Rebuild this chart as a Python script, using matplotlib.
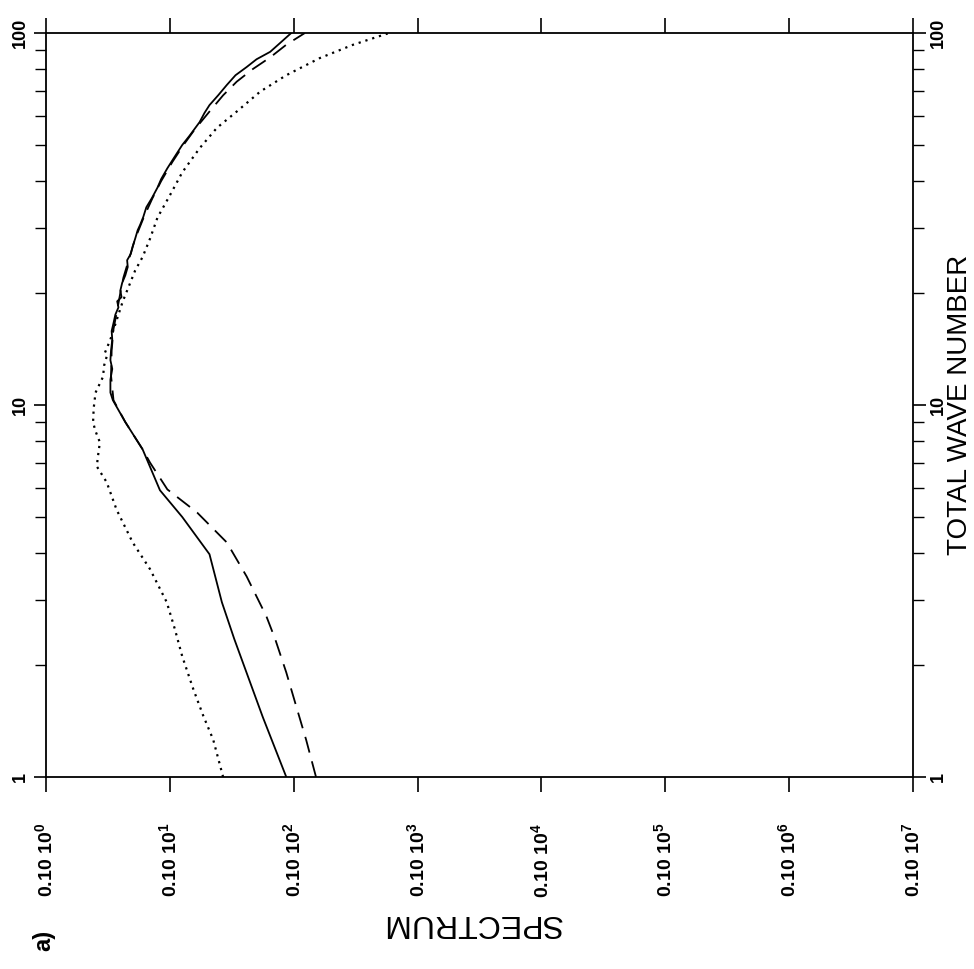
import numpy as np
import matplotlib
matplotlib.use("Agg")
import matplotlib.pyplot as plt
from matplotlib.ticker import FixedLocator, NullFormatter, NullLocator

plt.rcParams['font.family'] = ['Liberation Sans', 'DejaVu Sans']
plt.rcParams['mathtext.fontset'] = 'custom'
plt.rcParams['mathtext.rm'] = 'Liberation Sans:bold'
plt.rcParams['mathtext.bf'] = 'Liberation Sans:bold'

# total wave number vs log10(spectrum)
solid_n = [1, 1.45, 2.35, 2.95, 3.97, 5.0, 5.9, 7.6, 9.0, 10.3, 10.8, 11.7, 12.5,
           13.2, 14.0, 15.0, 15.8, 16.6, 17.5, 18.3, 19.0, 19.5, 20.3, 21.3, 22.3,
           23.5, 24.5, 25.5, 26.7, 28.0, 29.5, 30.5, 32, 34, 36, 38.4, 40.5, 43.3,
           46, 50, 53, 57.6, 61, 64, 68, 72.5, 77, 81, 85, 89, 94, 100]
solid_e = [-1.94, -1.75, -1.52, -1.42, -1.32, -1.10, -0.92, -0.78, -0.64, -0.54,
           -0.52, -0.52, -0.535, -0.52, -0.525, -0.535, -0.53, -0.545, -0.56, -0.585,
           -0.575, -0.61, -0.60, -0.615, -0.64, -0.66, -0.655, -0.685, -0.70, -0.72,
           -0.74, -0.76, -0.785, -0.81, -0.855, -0.90, -0.93, -0.98, -1.03, -1.10,
           -1.16, -1.24, -1.28, -1.32, -1.39, -1.46, -1.53, -1.62, -1.70, -1.81,
           -1.89, -1.98]

dashed_n = [1, 1.26, 1.55, 1.91, 2.35, 2.7, 3.46, 4.27, 5.14, 5.93, 7.0, 7.6, 9.0,
            10.3, 12, 14, 16, 18, 20, 22, 25, 28, 32, 36, 40, 45, 50, 55, 61.5, 68,
            74, 80, 86, 93, 100]
dashed_e = [-2.18, -2.10, -2.02, -1.94, -1.85, -1.78, -1.62, -1.46, -1.22, -0.98,
            -0.84, -0.78, -0.64, -0.545, -0.525, -0.53, -0.545, -0.575, -0.60, -0.625,
            -0.675, -0.72, -0.79, -0.86, -0.93, -1.02, -1.11, -1.20, -1.32, -1.43,
            -1.54, -1.67, -1.81, -1.94, -2.09]

dotted_n = [1, 1.26, 1.46, 1.72, 2.11, 2.5, 2.95, 3.62, 4.27, 5.23, 6.2, 6.84, 7.3,
            7.94, 8.5, 8.98, 9.8, 10.8, 11.9, 12.8, 13.5, 13.8, 15, 16.9, 19, 21.3,
            23, 25, 28, 31.9, 36.6, 42.2, 49, 55.6, 61.5, 69.6, 77, 85.6, 93, 100]
dotted_e = [-1.43, -1.35, -1.27, -1.19, -1.10, -1.04, -0.975, -0.84, -0.70, -0.57,
            -0.49, -0.41, -0.42, -0.435, -0.40, -0.38, -0.385, -0.40, -0.46, -0.47,
            -0.49, -0.475, -0.52, -0.57, -0.62, -0.68, -0.72, -0.78, -0.84, -0.90,
            -1.00, -1.10, -1.24, -1.38, -1.54, -1.73, -1.94, -2.21, -2.48, -2.77]

spec_exp = [0, 1, 2, 3, 4, 5, 6, 7]
spec_labels = ['0.10 10$^{\\mathbf{%d}}$' % k for k in spec_exp]
wave_ticks = [1, 10, 100]
wave_labels = ['1', '10', '100']

fig = plt.figure(figsize=(9.74, 9.69), dpi=100)
ax = fig.add_axes([46 / 974, 1 - 777 / 969, (913 - 46) / 974, (777 - 33) / 969])

# the page is turned: spectrum runs along x, wave number up y
ax.plot(10.0 ** np.array(solid_e), solid_n, color='black', lw=1.3, ls='-')
ax.plot(10.0 ** np.array(dashed_e), dashed_n, color='black', lw=1.3,
        ls=(0, (9, 5)))
ax.plot(10.0 ** np.array(dotted_e), dotted_n, color='black', lw=1.6,
        ls=(0, (1, 2.2)))

ax.set_xscale('log')
ax.set_yscale('log')
ax.set_xlim(1, 1e-7)
ax.set_ylim(1, 100)

ax.xaxis.set_major_locator(FixedLocator([10.0 ** -k for k in spec_exp]))
ax.xaxis.set_minor_locator(NullLocator())
ax.set_xticklabels(spec_labels)
ax.tick_params(axis='x', which='major', direction='out', length=11, width=1.2,
               top=True, bottom=True, labelrotation=90, pad=22, labelsize=14)

ax.yaxis.set_major_locator(FixedLocator(wave_ticks))
ax.set_yticklabels(wave_labels)
ax.yaxis.set_minor_formatter(NullFormatter())
ax.tick_params(axis='y', which='major', direction='out', length=9, width=1.2,
               left=True, right=True, labelleft=True, labelright=True,
               labelrotation=90, pad=3, labelsize=13)
ax.tick_params(axis='y', which='minor', direction='out', length=8, width=1.0,
               left=True, right=True)
for lab in ax.get_xticklabels() + ax.get_yticklabels():
    lab.set_fontweight('bold')
for lab in ax.get_yticklabels():
    lab.set_verticalalignment('center')

for sp in ax.spines.values():
    sp.set_linewidth(1.3)

fig.text(472 / 974, 1 - 923 / 969, 'SPECTRUM', rotation=180, ha='center',
         va='center', fontsize=23)
fig.text(973 / 974, 1 - 405 / 969, 'TOTAL WAVE NUMBER', rotation=90,
         ha='right', va='center', fontsize=20)
fig.text(44 / 974, 1 - 940 / 969, 'a)', rotation=90, ha='center', va='center',
         fontsize=17, fontweight='bold')

fig.savefig('out.png', dpi=100)
